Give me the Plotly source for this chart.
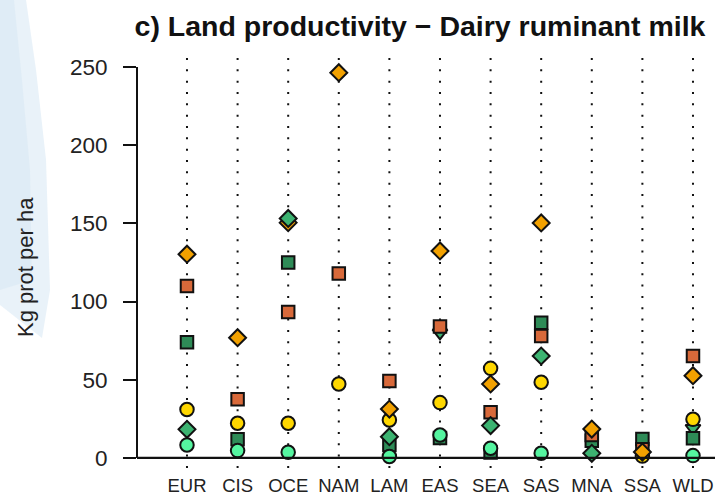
import plotly.graph_objects as go

regions = ["EUR", "CIS", "OCE", "NAM", "LAM", "EAS", "SEA", "SAS", "MNA", "SSA", "WLD"]

# values in kg protein per ha
green_triangle = [None, None, None, None, None, 80, None, None, None, None, 19]
dark_green_square = [74, 12, 125, None, 8.3, 12.8, 3.5, 86.5, 11, 12.2, 12.6]
orange_red_square = [110, 37.5, 93.4, 118, 49.2, 84, 29.2, 78, 14.7, 5.5, 65.2]
yellow_circle = [31, 22.2, 22.2, 47.3, 24.3, 35.4, 57.3, 48.4, None, 1.2, 24.7]
orange_diamond = [130.3, 76.9, 150.5, 246.4, 31.3, 132.4, 47.3, 150.3, 18.5, 3.8, 52.6]
green_diamond = [18.3, None, 153.2, None, 13.6, None, 20.7, 65.2, 3.0, None, None]
mint_circle = [8.3, 4.7, 3.6, None, 0.9, 14.7, 6.2, 3.0, None, None, 1.5]

y_ticks = [0, 50, 100, 150, 200, 250]
y_top, y_bottom = 255.8, -10.9

fig = go.Figure()

# dotted guide lines at each region
gx, gy = [], []
for r in regions:
    gx += [r, r, None]
    gy += [y_top, y_bottom, None]
fig.add_trace(go.Scatter(x=gx, y=gy, mode="lines", hoverinfo="skip",
                         line=dict(color="#111111", width=2, dash="2px,9.33px"),
                         showlegend=False))

series = [
    (green_triangle, "triangle-down", "#3CB371", 13),
    (dark_green_square, "square", "#2E8B57", 12.5),
    (orange_red_square, "square", "#D8693A", 12.5),
    (yellow_circle, "circle", "#FFD700", 13.5),
    (orange_diamond, "diamond", "#F2A100", 13),
    (green_diamond, "diamond", "#3CB371", 13),
    (mint_circle, "circle", "#55F5A0", 13.5),
]
for vals, sym, col, size in series:
    fig.add_trace(go.Scatter(x=regions, y=vals, mode="markers", showlegend=False,
                             marker=dict(symbol=sym, color=col, size=size,
                                         line=dict(color="#111111", width=2))))

W, H = 715, 497
L, R, T, B = 137, 0, 58, 22
pw, ph = W - L - R, H - T - B

def px(x):
    return (x - L) / pw

def py(y):
    return (H - B - y) / ph

def mkpath(pts):
    return "M " + " L ".join(f"{px(a):.4f},{py(b):.4f}" for a, b in pts) + " Z"

# faint light-blue backdrop at the left edge
outer = [(0, 0), (26, 0), (36, 70), (46, 160), (50, 290), (42, 338), (0, 305)]
inner = [(0, 0), (14, 0), (22, 80), (30, 170), (32, 280), (0, 290)]

shapes = [
    dict(type="path", path=mkpath(outer), xref="paper", yref="paper", layer="below",
         fillcolor="rgba(215,232,244,0.55)", line=dict(width=0)),
    dict(type="path", path=mkpath(inner), xref="paper", yref="paper", layer="below",
         fillcolor="rgba(205,225,240,0.35)", line=dict(width=0)),
    dict(type="line", xref="paper", yref="y", x0=0, x1=1, y0=0, y1=0,
         line=dict(color="#111111", width=2.2)),
    dict(type="line", xref="paper", yref="y", x0=0, x1=0, y0=0, y1=250,
         line=dict(color="#111111", width=2)),
]

fig.update_layout(
    width=W, height=H,
    margin=dict(l=L, r=R, t=T, b=B, autoexpand=False),
    paper_bgcolor="white", plot_bgcolor="white",
    font=dict(family="Liberation Sans, Arial, sans-serif", color="#222222"),
    title=dict(text="<b>c) Land productivity \u2212 Dairy ruminant milk</b>",
               x=420 / W, xanchor="center", xref="container",
               y=1 - 26.5 / H, yanchor="middle", yref="container",
               font=dict(size=28.5, color="#111111")),
    shapes=shapes,
    annotations=[dict(text="Kg prot per ha", xref="paper", yref="paper",
                      x=px(25), y=py(267), textangle=-90, showarrow=False,
                      xanchor="center", yanchor="middle",
                      font=dict(size=22, color="#222222"))],
    xaxis=dict(type="category", categoryorder="array", categoryarray=regions,
               range=[-0.988, 10.435], showgrid=False, zeroline=False,
               showline=False, ticks="", tickfont=dict(size=18.5),
               ticklabelstandoff=-3, automargin=False),
    yaxis=dict(range=[y_bottom, y_top], tickvals=y_ticks, showgrid=False,
               zeroline=False, showline=False, ticks="outside", ticklen=13,
               tickwidth=2, tickcolor="#111111", tickfont=dict(size=22.5),
               ticklabelstandoff=11, automargin=False),
)

fig.write_html("out.html")
